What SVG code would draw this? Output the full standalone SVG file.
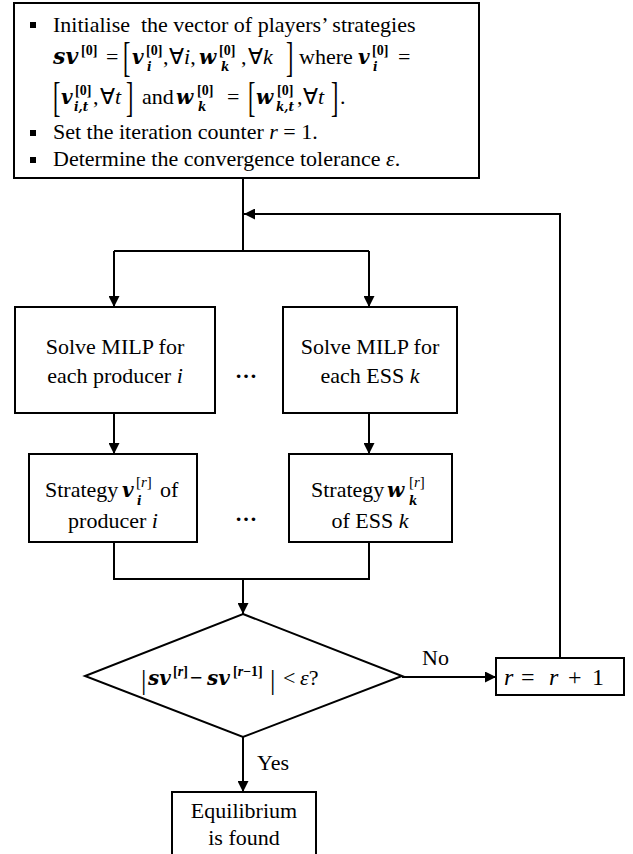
<svg xmlns="http://www.w3.org/2000/svg" width="633" height="854" viewBox="0 0 633 854">
<defs>
<style>
.t{font-family:'Liberation Serif','Times New Roman',serif;font-size:22px;fill:#000}
.mb{font-family:'DejaVu Serif',serif;font-weight:bold;font-style:italic;font-size:20px;fill:#000}
.sb{font-family:'DejaVu Serif',serif;font-weight:bold;font-style:italic;font-size:12px;fill:#000}
.sp{font-family:'Liberation Serif','Times New Roman',serif;font-weight:bold;font-size:14px;fill:#000}
.mi{font-style:italic}
.c{text-anchor:middle}
.box{fill:#fff;stroke:#000;stroke-width:2}
.ln{fill:none;stroke:#000;stroke-width:2}
.ar{fill:none;stroke:#000;stroke-width:2;marker-end:url(#ah)}
</style>
<marker id="ah" markerUnits="userSpaceOnUse" markerWidth="11" markerHeight="11" refX="10" refY="5" orient="auto" viewBox="0 0 10 10">
<path d="M0,0 L10,5 L0,10 z" fill="#000"/>
</marker>
</defs>

<g id="connectors">
<path class="ln" d="M243,178 V251"/>
<path class="ln" d="M114,251 H369"/>
<path class="ar" d="M114,251 V307"/>
<path class="ar" d="M369,251 V307"/>
<path class="ar" d="M560,658 V214 H244"/>
<path class="ar" d="M114,413 V454"/>
<path class="ar" d="M369,413 V454"/>
<path class="ln" d="M114,542 V579 M369,542 V579 M113,579 H370"/>
<path class="ar" d="M243,579 V614"/>
<path class="ar" d="M402,677 H496"/>
<path class="ar" d="M243,737 V792"/>
<text class="t" x="422" y="665">No</text>
<text class="t" x="257" y="770">Yes</text>
</g>

<g id="init">
<rect class="box" x="14" y="3" width="465" height="175"/>
<rect x="30" y="22" width="6" height="6" fill="#000"/>
<rect x="30" y="130" width="6" height="6" fill="#000"/>
<rect x="30" y="157" width="6" height="6" fill="#000"/>
<text class="t" xml:space="preserve" x="53" y="32">Initialise  the vector of players’ strategies</text>
<text class="mb" x="53" y="64" style="font-size:22px">sv</text>
<text class="sp" x="81" y="55">[0]</text>
<text class="t" x="106" y="64">=</text>
<text class="t" transform="translate(123,70.5) scale(1,1.9)">[</text>
<text class="mb" x="132" y="64">v</text>
<text class="sp" x="146" y="55">[0]</text>
<text class="sb" x="147" y="71">i</text>
<text class="t" x="163" y="64">,</text>
<text class="t" x="169" y="64">∀<tspan class="mi">i</tspan>,</text>
<text class="mb" x="199" y="64">w</text>
<text class="sp" x="219" y="55">[0]</text>
<text class="sb" x="221" y="71">k</text>
<text class="t" x="241" y="64">,</text>
<text class="t" x="248" y="64">∀<tspan class="mi">k</tspan></text>
<text class="t" transform="translate(286,70.5) scale(1,1.9)">]</text>
<text class="t" x="299" y="64">where</text>
<text class="mb" x="358" y="64">v</text>
<text class="sp" x="372" y="55">[0]</text>
<text class="sb" x="373" y="71">i</text>
<text class="t" x="398" y="64">=</text>
<text class="t" transform="translate(53,110.5) scale(1,1.9)">[</text>
<text class="mb" x="61" y="104">v</text>
<text class="sp" x="75" y="95">[0]</text>
<text class="sb" x="74" y="111">i,t</text>
<text class="t" x="93" y="104">,</text>
<text class="t" x="100" y="104">∀<tspan class="mi">t</tspan></text>
<text class="t" transform="translate(126,110.5) scale(1,1.9)">]</text>
<text class="t" x="142" y="104">and</text>
<text class="mb" x="176" y="104">w</text>
<text class="sp" x="197" y="95">[0]</text>
<text class="sb" x="198" y="111">k</text>
<text class="t" x="227" y="104">=</text>
<text class="t" transform="translate(248,110.5) scale(1,1.9)">[</text>
<text class="mb" x="256" y="104">w</text>
<text class="sp" x="277" y="95">[0]</text>
<text class="sb" x="276" y="111">k,t</text>
<text class="t" x="297" y="104">,</text>
<text class="t" x="303" y="104">∀<tspan class="mi">t</tspan></text>
<text class="t" transform="translate(331,110.5) scale(1,1.9)">]</text>
<text class="t" x="340" y="104">.</text>
<text class="t" x="53" y="139">Set the iteration counter <tspan class="mi">r</tspan> = 1.</text>
<text class="t" x="53" y="166">Determine the convergence tolerance <tspan class="mi">ε</tspan>.</text>
</g>

<g id="solve-producer">
<rect class="box" x="15" y="307" width="200" height="106"/>
<text class="t c" x="115" y="354">Solve MILP for</text>
<text class="t c" x="115" y="383">each producer <tspan class="mi">i</tspan></text>
</g>

<g id="dots1"><text class="t c" x="246" y="378" font-weight="bold">…</text></g>

<g id="solve-ess">
<rect class="box" x="283" y="307" width="174" height="106"/>
<text class="t c" x="370" y="354">Solve MILP for</text>
<text class="t c" x="370" y="383">each ESS <tspan class="mi">k</tspan></text>
</g>

<g id="strategy-producer">
<rect class="box" x="29" y="454" width="168" height="88"/>
<text class="t" x="45" y="497">Strategy</text>
<text class="mb" x="122" y="497">v</text>
<text class="t" x="136" y="487" style="font-size:15px">[<tspan class="mi">r</tspan>]</text>
<text class="sb" x="137" y="505">i</text>
<text class="t" x="160" y="497">of</text>
<text class="t c" x="113" y="528">producer <tspan class="mi">i</tspan></text>
</g>

<g id="dots2"><text class="t c" x="246" y="521" font-weight="bold">…</text></g>

<g id="strategy-ess">
<rect class="box" x="289" y="454" width="163" height="88"/>
<text class="t" x="311" y="497">Strategy</text>
<text class="mb" x="387" y="497">w</text>
<text class="t" x="409" y="487" style="font-size:15px">[<tspan class="mi">r</tspan>]</text>
<text class="sb" x="409" y="505">k</text>
<text class="t c" x="370" y="528">of ESS <tspan class="mi">k</tspan></text>
</g>

<g id="convergence">
<polygon class="box" points="243,614 402,676 243,737 85,676"/>
<text class="t" x="141" y="689" style="font-size:27px">|</text>
<text class="mb" x="148" y="685">sv</text>
<text class="sp" x="173" y="676">[<tspan class="mi">r</tspan>]</text>
<text class="t" x="190" y="685" font-weight="bold">−</text>
<text class="mb" x="207" y="685">sv</text>
<text class="sp" x="233" y="676">[<tspan class="mi">r</tspan>−1]</text>
<text class="t" x="270" y="689" style="font-size:27px">|</text>
<text class="t" x="283" y="685">&lt;</text>
<text class="t" x="300" y="685"><tspan class="mi">ε</tspan>?</text>
</g>

<g id="increment">
<rect class="box" x="496" y="658" width="128" height="37"/>
<text class="t mi" x="504" y="685" style="font-size:24px">r</text>
<text class="t" x="521" y="685" style="font-size:24px">=</text>
<text class="t mi" x="549" y="685" style="font-size:24px">r</text>
<text class="t" x="568" y="685" style="font-size:24px">+</text>
<text class="t" x="592" y="685" style="font-size:24px">1</text>
</g>

<g id="equilibrium">
<rect class="box" x="172" y="792" width="144" height="80"/>
<text class="t c" x="244" y="818">Equilibrium</text>
<text class="t c" x="244" y="845">is found</text>
</g>
</svg>
